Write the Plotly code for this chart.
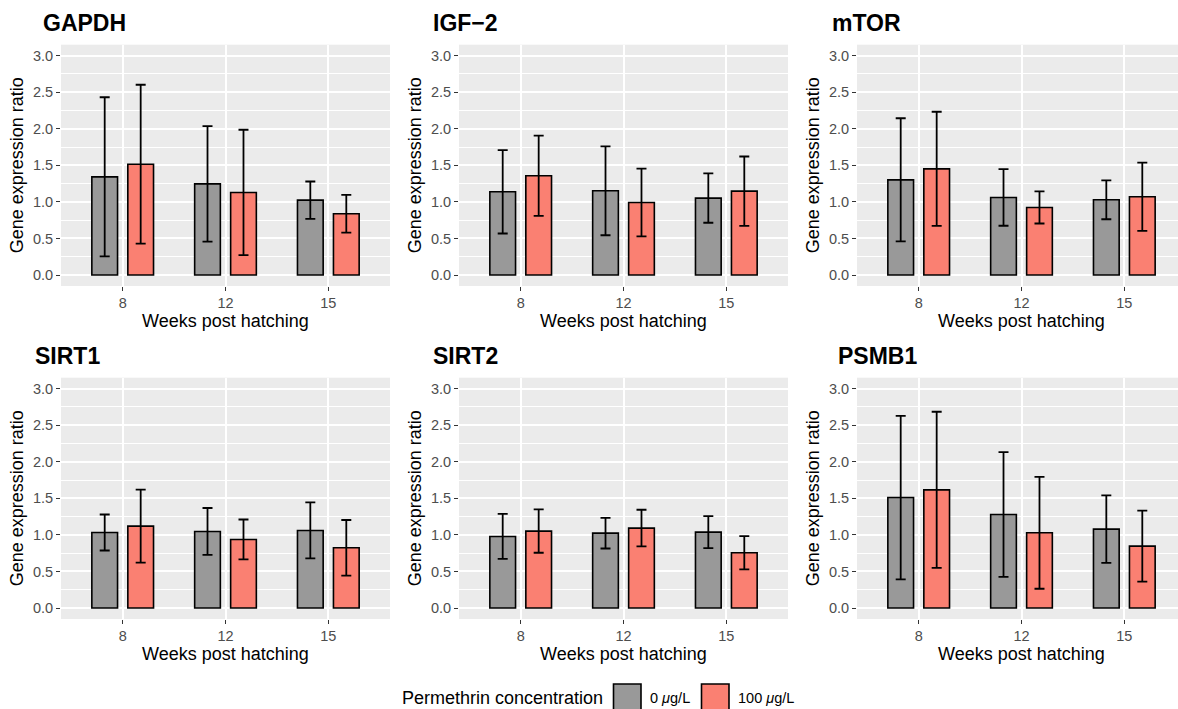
import plotly.graph_objects as go

W, H = 1178, 709

weeks = ["8", "12", "15"]
genes = ["GAPDH", "IGF−2", "mTOR", "SIRT1", "SIRT2", "PSMB1"]
groups = ["0 <i>μ</i>g/L", "100 <i>μ</i>g/L"]

gapdh_0_mean = [1.343, 1.247, 1.024]
gapdh_0_sd = [1.088, 0.790, 0.255]
gapdh_100_mean = [1.516, 1.129, 0.838]
gapdh_100_sd = [1.086, 0.858, 0.258]

igf2_0_mean = [1.138, 1.152, 1.052]
igf2_0_sd = [0.570, 0.608, 0.337]
igf2_100_mean = [1.357, 0.992, 1.147]
igf2_100_sd = [0.549, 0.464, 0.474]

mtor_0_mean = [1.302, 1.061, 1.029]
mtor_0_sd = [0.842, 0.387, 0.266]
mtor_100_mean = [1.452, 0.924, 1.070]
mtor_100_sd = [0.781, 0.219, 0.467]

sirt1_0_mean = [1.033, 1.047, 1.061]
sirt1_0_sd = [0.246, 0.321, 0.383]
sirt1_100_mean = [1.120, 0.938, 0.824]
sirt1_100_sd = [0.499, 0.273, 0.380]

sirt2_0_mean = [0.979, 1.024, 1.038]
sirt2_0_sd = [0.308, 0.210, 0.219]
sirt2_100_mean = [1.052, 1.093, 0.756]
sirt2_100_sd = [0.296, 0.251, 0.228]

psmb1_0_mean = [1.511, 1.279, 1.079]
psmb1_0_sd = [1.118, 0.854, 0.462]
psmb1_100_mean = [1.616, 1.029, 0.847]
psmb1_100_sd = [1.068, 0.765, 0.485]

y_ticks = [0.0, 0.5, 1.0, 1.5, 2.0, 2.5, 3.0]
y_tick_labels = ["0.0", "0.5", "1.0", "1.5", "2.0", "2.5", "3.0"]

series = [
    (gapdh_0_mean, gapdh_0_sd, gapdh_100_mean, gapdh_100_sd),
    (igf2_0_mean, igf2_0_sd, igf2_100_mean, igf2_100_sd),
    (mtor_0_mean, mtor_0_sd, mtor_100_mean, mtor_100_sd),
    (sirt1_0_mean, sirt1_0_sd, sirt1_100_mean, sirt1_100_sd),
    (sirt2_0_mean, sirt2_0_sd, sirt2_100_mean, sirt2_100_sd),
    (psmb1_0_mean, psmb1_0_sd, psmb1_100_mean, psmb1_100_sd),
]

FILL = ["#999999", "#FA8072"]
FONT = "Liberation Sans, Arial, Helvetica, sans-serif"

# pixel layout
col_left = [61, 459, 857]
panel_w = 329
row_top = [44.7, 377.7]
panel_h = 241.3
unit_px = panel_w / 3.2

fig = go.Figure()
layout = dict(
    width=W, height=H, margin=dict(l=0, r=0, t=0, b=0),
    paper_bgcolor="white", plot_bgcolor="#EBEBEB",
    barmode="group", bargap=0.3, bargroupgap=0.2857,
    showlegend=False,
    font=dict(family=FONT, color="black"),
)
annotations = []
shapes = []

for i, gene in enumerate(genes):
    r, c = divmod(i, 3)
    k = i + 1
    xa = "x" if k == 1 else f"x{k}"
    ya = "y" if k == 1 else f"y{k}"
    m0, s0, m1, s1 = series[i]
    for g, (m, s) in enumerate([(m0, s0), (m1, s1)]):
        fig.add_trace(go.Bar(
            x=weeks, y=m, name=groups[g], xaxis=xa, yaxis=ya,
            marker=dict(color=FILL[g], line=dict(color="black", width=1.6)),
            error_y=dict(type="data", array=s, color="black", thickness=1.8, width=5),
            offsetgroup=str(g),
        ))
    left = col_left[c]
    right = left + panel_w
    xr = [-0.6, 2.6]
    if right > W:
        xr = [-0.6, 2.6 - (right - W) / unit_px]
        right = W
    top = row_top[r]
    bot = top + panel_h
    axkey = "xaxis" if k == 1 else f"xaxis{k}"
    aykey = "yaxis" if k == 1 else f"yaxis{k}"
    layout[axkey] = dict(
        domain=[left / W, right / W], anchor=ya, type="category",
        categoryorder="array", categoryarray=weeks, range=xr,
        showgrid=True, gridcolor="white", gridwidth=1.8,
        ticks="outside", ticklen=4, tickwidth=1.2, tickcolor="#333333",
        tickfont=dict(size=14.5, color="#4D4D4D", family=FONT),
        zeroline=False, showline=False, fixedrange=True,
    )
    layout[aykey] = dict(
        domain=[1 - bot / H, 1 - top / H], anchor=xa, range=[-0.15, 3.15],
        tickvals=y_ticks, ticktext=y_tick_labels,
        showgrid=True, gridcolor="white", gridwidth=1.8,
        minor=dict(dtick=0.25, tick0=0, showgrid=True, gridcolor="white", gridwidth=0.9, ticks=""),
        ticks="outside", ticklen=4, tickwidth=1.2, tickcolor="#333333",
        tickfont=dict(size=14.5, color="#4D4D4D", family=FONT),
        zeroline=False, showline=False, fixedrange=True,
    )
    # panel title
    title_x = [41, 431, 830][c] if r == 0 else [33, 431, 836][c]
    annotations.append(dict(
        text=f"<b>{gene}</b>", x=title_x / W, y=1 - (top - 22) / H,
        xref="paper", yref="paper", xanchor="left", yanchor="middle",
        showarrow=False, font=dict(size=23, color="black", family=FONT),
    ))
    # axis titles
    annotations.append(dict(
        text="Weeks post hatching", x=(left + panel_w / 2) / W, y=1 - (bot + 34.5) / H,
        xref="paper", yref="paper", xanchor="center", yanchor="middle",
        showarrow=False, font=dict(size=18, color="black", family=FONT),
    ))
    annotations.append(dict(
        text="Gene expression ratio", x=(left - 44) / W, y=1 - (top + panel_h / 2) / H,
        xref="paper", yref="paper", xanchor="center", yanchor="middle", textangle=-90,
        showarrow=False, font=dict(size=18, color="black", family=FONT),
    ))

# legend (manual, ggplot style)
leg_cy = 698
annotations.append(dict(
    text="Permethrin concentration", x=400 / W, y=1 - leg_cy / H,
    xref="paper", yref="paper", xanchor="left", yanchor="middle",
    showarrow=False, font=dict(size=18, color="black", family=FONT),
))
key_x = [613.5, 701.5]
lab_x = [648, 736]
for g in range(2):
    shapes.append(dict(
        type="rect", xref="paper", yref="paper",
        x0=key_x[g] / W, x1=(key_x[g] + 27.5) / W,
        y0=1 - (leg_cy + 14) / H, y1=1 - (leg_cy - 14) / H,
        fillcolor=FILL[g], line=dict(color="black", width=1.6),
    ))
    annotations.append(dict(
        text=groups[g], x=lab_x[g] / W, y=1 - leg_cy / H,
        xref="paper", yref="paper", xanchor="left", yanchor="middle",
        showarrow=False, font=dict(size=14.5, color="black", family=FONT),
    ))

layout["annotations"] = annotations
layout["shapes"] = shapes
fig.update_layout(**layout)
fig.write_html("out.html")
